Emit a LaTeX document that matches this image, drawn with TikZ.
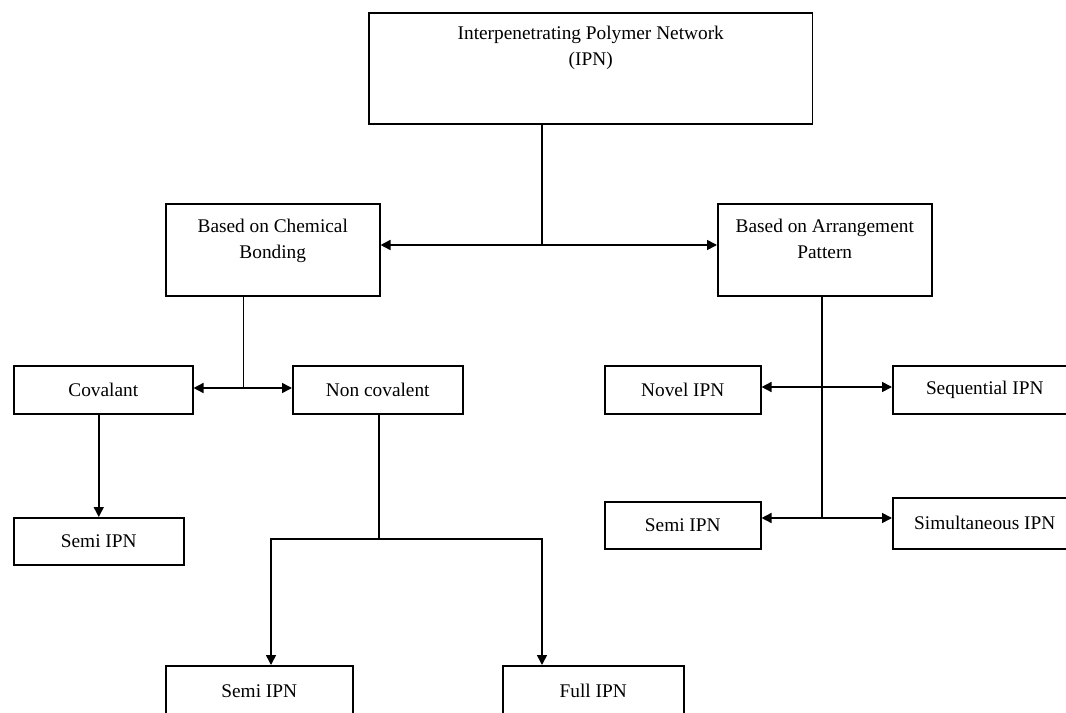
\documentclass[tikz,border=0pt]{standalone}
\usepackage{fontspec}
\setmainfont{Liberation Serif}
\usepackage{tikz}
\usetikzlibrary{arrows.meta,positioning}
\tikzset{
  box/.style={draw,line width=0.9pt,inner sep=0pt,anchor=north west,
    minimum height=0.96cm,font=\fontsize{11}{15}\selectfont},
  headbox/.style={box,align=center,text height=1.1cm,text depth=0.74cm},
  link/.style={line width=0.9pt},
  arrow/.style={-{Triangle[length=2mm,width=2mm]},line width=0.9pt},
  dbl/.style={{Triangle[length=2mm,width=2mm]}-{Triangle[length=2mm,width=2mm]},line width=0.9pt}
}
\begin{document}
\begin{tikzpicture}[x=0.02cm,y=-0.02cm]
        \useasboundingbox (0,0) rectangle (1066,713);
        \node[headbox,minimum width=8.88cm,text height=1.06cm,text depth=1.16cm] (ipn) at (368,12)
          {Interpenetrating Polymer Network\\(IPN)};
        \node[headbox,minimum width=4.28cm] (chem) at (165,203) {Based on Chemical\\Bonding};
        \node[headbox,minimum width=4.28cm] (arr) at (717,203) {Based on Arrangement\\Pattern};
        \node[box,minimum width=3.58cm] (cov) at (13,365) {Covalant};
        \node[box,minimum width=3.40cm] (ncov) at (292,365) {Non covalent};
        \node[box,minimum width=3.40cm,minimum height=0.94cm] (semil) at (13,517) {Semi IPN};
        \node[box,minimum width=3.74cm,minimum height=1.0cm] (semib) at (165,665) {Semi IPN};
        \node[box,minimum width=3.62cm,minimum height=1.0cm] (full) at (502,665) {Full IPN};
        \node[box,minimum width=3.12cm] (novel) at (604,365) {Novel IPN};
        \node[box,minimum width=3.68cm] (seq) at (892,365) {Sequential IPN};
        \node[box,minimum width=3.12cm,minimum height=0.94cm] (semir) at (604,501) {Semi IPN};
        \node[box,minimum width=3.68cm,minimum height=1.02cm] (simul) at (892,497) {Simultaneous IPN};
        \coordinate (hub) at (542,245);
        \coordinate (cb) at (243.5,388);
        \coordinate (nj) at (379,539);
        \coordinate (nl) at (271,539);
        \coordinate (nr) at (542,539);
        \coordinate (a1) at (822,387);
        \coordinate (a2) at (822,518);
        \draw[link] (ipn.south -| hub) -- (hub);
        \draw[dbl] (chem.east |- hub) -- (arr.west |- hub);
        \draw[link] (chem.south -| cb) -- (cb);
        \draw[dbl] (cov.east |- cb) -- (ncov.west |- cb);
        \draw[arrow] (cov.south -| semil.north) -- (semil.north);
        \draw[link] (ncov.south -| nj) -- (nj);
        \draw[arrow] (nj) -- (nl) -- (semib.north -| nl);
        \draw[arrow] (nj) -- (nr) -- (full.north -| nr);
        \draw[link] (arr.south -| a2) -- (a2);
        \draw[dbl] (novel.east |- a1) -- (seq.west |- a1);
        \draw[dbl] (semir.east |- a2) -- (simul.west |- a2);
      \end{tikzpicture}
\end{document}
